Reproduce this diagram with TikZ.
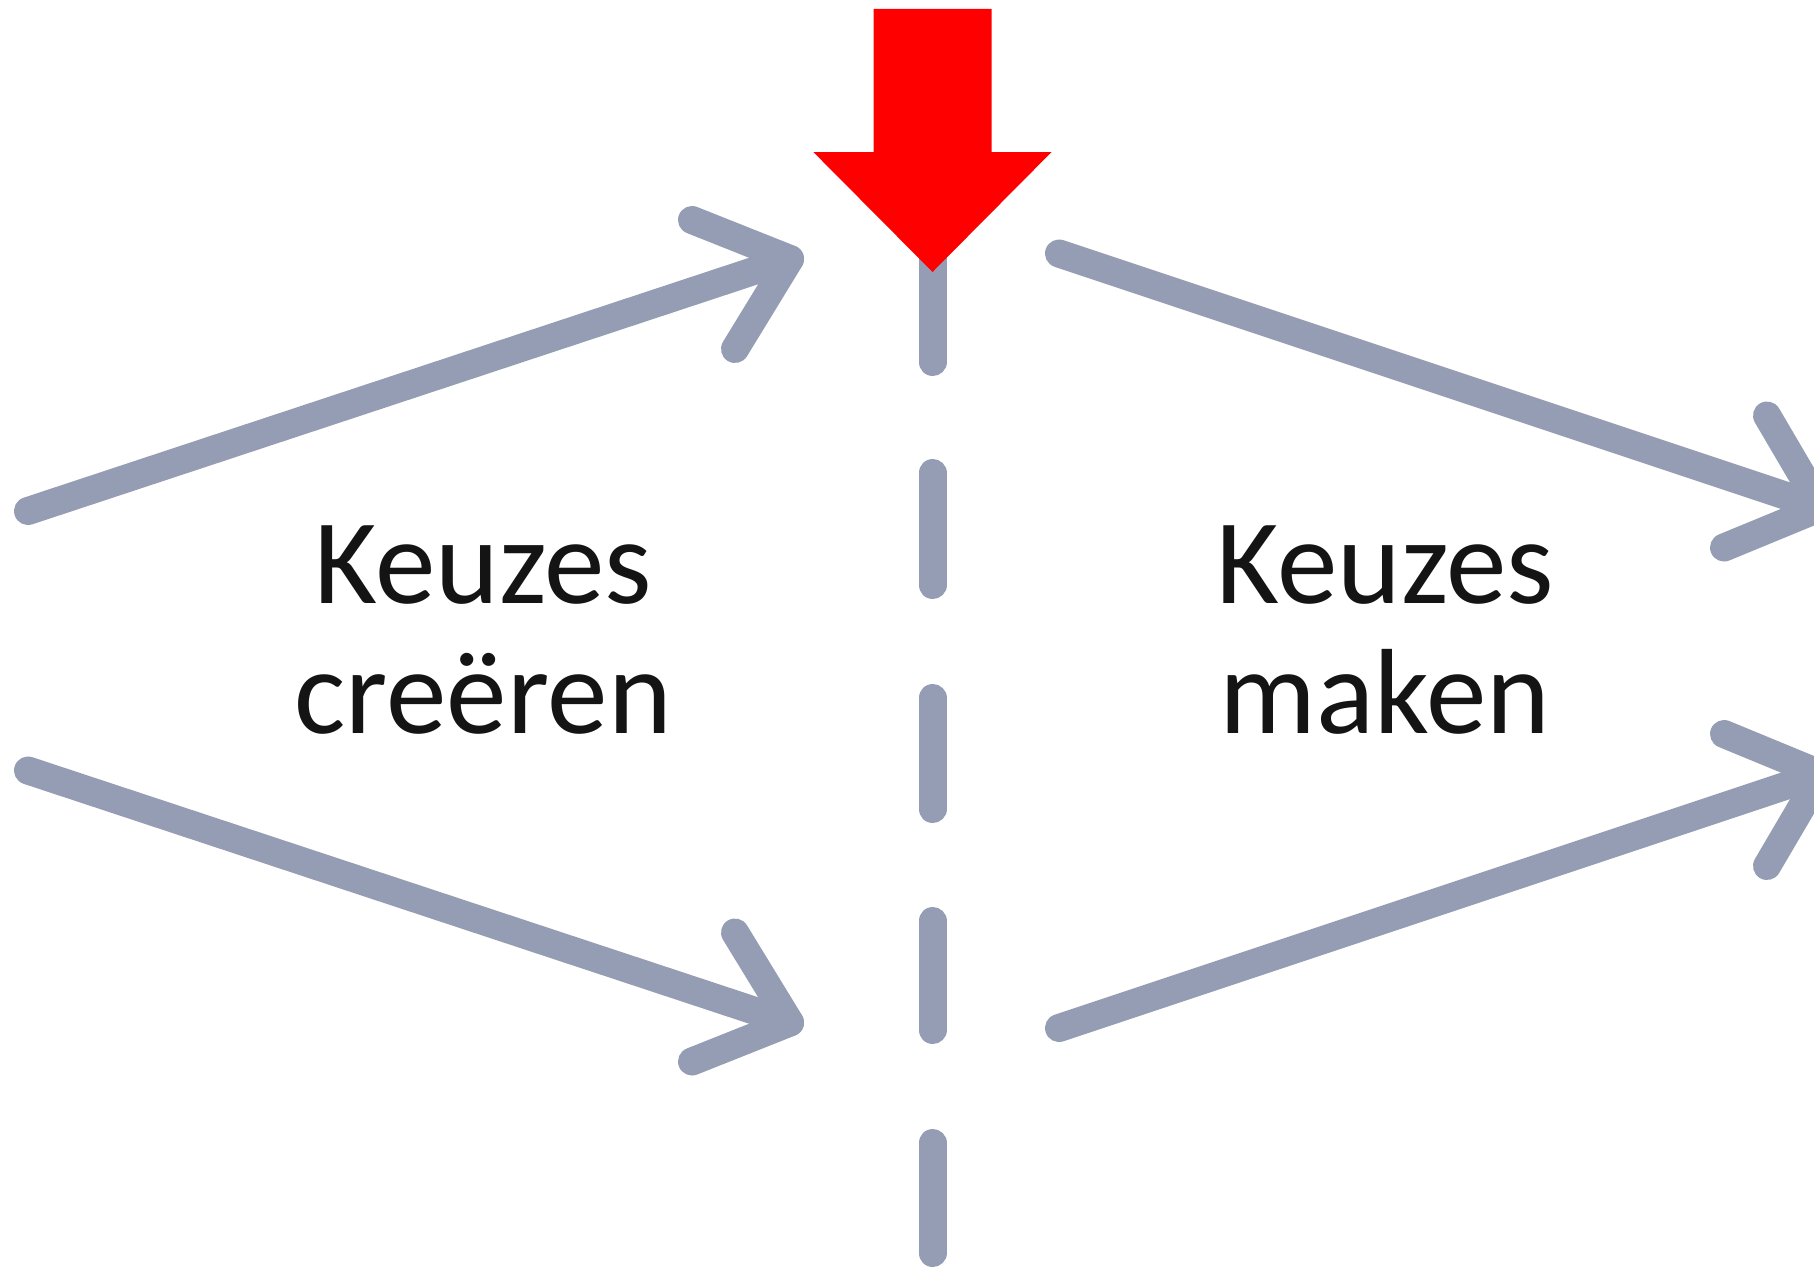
\documentclass[tikz,border=0pt]{standalone}
\usepackage{fontspec}
\setmainfont{Carlito}
\definecolor{flowgray}{RGB}{148,157,179}
\definecolor{markred}{RGB}{255,0,0}
\tikzset{
  flowline/.style={draw=flowgray, line width=14pt, line cap=round, line join=round},
  dashseg/.style={draw=flowgray, line width=14pt, line cap=round},
  marker/.style={fill=markred, draw=none},
  label/.style={font=\fontsize{60.6pt}{65pt}\selectfont, text=black!92, align=center, inner sep=0pt, anchor=base}
}
\begin{document}
\begin{tikzpicture}[x=0.5pt,y=-0.5pt]
\useasboundingbox (0,0) rectangle (1814,1268);
\clip (0,0) rectangle (1814,1268);
\fill[white] (0,0) rectangle (1814,1268);

% dashed divider
\coordinate (d0a) at (932.5,255); \coordinate (d0b) at (932.5,362);
\coordinate (d1a) at (932.5,473); \coordinate (d1b) at (932.5,585);
\coordinate (d2a) at (932.5,698); \coordinate (d2b) at (932.5,809);
\coordinate (d3a) at (932.5,921); \coordinate (d3b) at (932.5,1030);
\coordinate (d4a) at (932.5,1143); \coordinate (d4b) at (932.5,1253);
\foreach \i in {0,...,4} { \draw[dashseg] (d\i a) -- (d\i b); }

% red marker arrow
\fill[marker] (873.5,9) -- (991.5,9) -- (991.5,152) -- (1051.6,152) -- (932.5,272)
  -- (813.3,152) -- (873.5,152) -- cycle;

% left upper arrow
\coordinate (lus) at (28,511);
\coordinate (lut) at (790,259);
\coordinate (lua) at (692,220);
\coordinate (lub) at (735,349);
\draw[flowline] (lus) -- (lut);
\draw[flowline] (lua) -- (lut) -- (lub);

% left lower arrow
\coordinate (lls) at (28,770.5);
\coordinate (llt) at (790,1022.5);
\coordinate (lla) at (692,1061.5);
\coordinate (llb) at (735,932.5);
\draw[flowline] (lls) -- (llt);
\draw[flowline] (lla) -- (llt) -- (llb);

% right upper arrow
\coordinate (rus) at (1059,253.5);
\coordinate (rut) at (1821,507.5);
\coordinate (rua) at (1767,415.5);
\coordinate (rub) at (1724,547.5);
\draw[flowline] (rus) -- (rut);
\draw[flowline] (rua) -- (rut) -- (rub);

% right lower arrow
\coordinate (rls) at (1059,1028);
\coordinate (rlt) at (1821,774);
\coordinate (rla) at (1724,734);
\coordinate (rlb) at (1767,866);
\draw[flowline] (rls) -- (rlt);
\draw[flowline] (rla) -- (rlt) -- (rlb);

% labels (anchor base = baseline of the last line)
\node[label] (create) at (483,733) {Keuzes\\creëren};
\node[label] (make) at (1385,733) {Keuzes\\maken};
\end{tikzpicture}
\end{document}
